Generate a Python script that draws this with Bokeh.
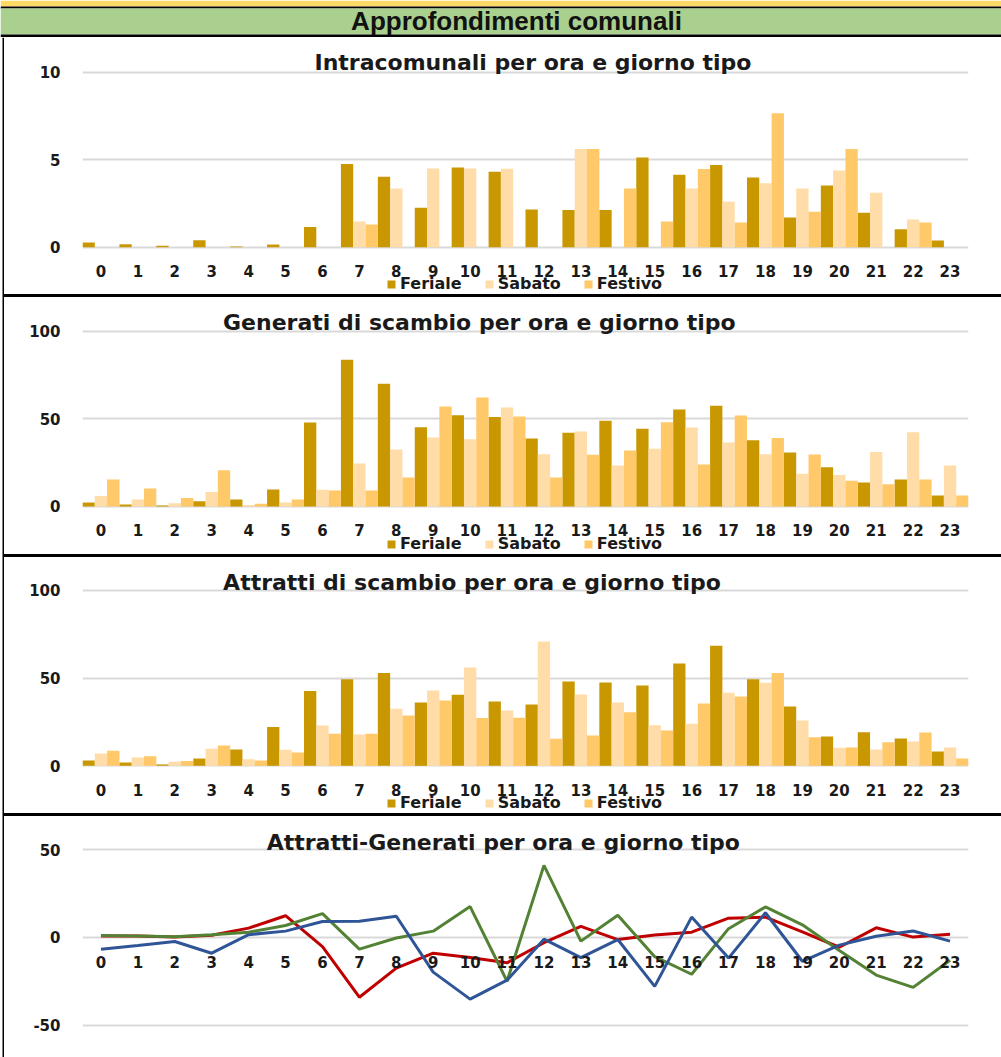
from bokeh.plotting import figure
from bokeh.models import Range1d, FixedTicker, Legend, LegendItem, Label, ColumnDataSource, Div
from bokeh.layouts import column, row
from bokeh.embed import file_html
from bokeh.resources import INLINE
from bokeh.core.properties import value
from bokeh.transform import dodge

# ---------------- data ----------------
hours = list(range(24))
hour_labels = [str(h) for h in hours]
series_names = ["Feriale", "Sabato", "Festivo"]

header_text = "Approfondimenti comunali"
titles = [
    "Intracomunali per ora e giorno tipo",
    "Generati di scambio per ora e giorno tipo",
    "Attratti di scambio per ora e giorno tipo",
    "Attratti-Generati per ora e giorno tipo",
]

intra_ticks = [0, 5, 10]
exchange_ticks = [0, 50, 100]
diff_ticks = [-50, 0, 50]
diff_tick_labels = ["-50", "0", "50"]

intra_feriale = [0.27, 0.17, 0.08, 0.40, 0.04, 0.15, 1.15, 4.75, 4.03, 2.25, 4.56, 4.31,
                 2.16, 2.12, 2.12, 5.13, 4.14, 4.69, 3.99, 1.70, 3.53, 1.97, 1.03, 0.38]
intra_sabato = [0, 0, 0, 0, 0, 0, 0, 1.47, 3.36, 4.50, 4.50, 4.48,
                0, 5.61, 0, 0, 3.36, 2.60, 3.65, 3.36, 4.39, 3.11, 1.58, 0]
intra_festivo = [0, 0, 0, 0, 0, 0, 0, 1.30, 0, 0, 0, 0,
                 0, 5.61, 3.36, 1.47, 4.47, 1.41, 7.65, 2.02, 5.61, 0, 1.41, 0]

gen_feriale = [2.3, 1.1, 0.6, 3.0, 4.0, 9.7, 47.9, 83.7, 70.0, 45.2, 52.1, 51.0,
               38.8, 42.0, 48.9, 44.3, 55.3, 57.4, 37.8, 30.8, 22.4, 13.7, 15.4, 6.3]
gen_sabato = [5.9, 4.0, 1.9, 8.2, 0.8, 2.3, 9.5, 24.5, 32.5, 39.4, 38.4, 56.5,
              29.8, 42.8, 23.4, 32.9, 45.1, 36.5, 29.8, 18.6, 17.9, 31.0, 42.4, 23.4]
gen_festivo = [15.4, 10.3, 4.9, 20.7, 1.5, 4.0, 9.1, 9.1, 16.5, 57.0, 62.2, 51.3,
               16.5, 29.5, 31.9, 48.1, 24.0, 51.9, 39.0, 29.7, 14.6, 12.7, 15.4, 6.3]

att_feriale = [3.0, 1.9, 0.8, 4.2, 9.3, 22.1, 42.6, 49.4, 52.9, 36.1, 40.5, 36.7,
               35.0, 48.1, 47.5, 45.8, 58.4, 68.4, 49.4, 33.8, 16.7, 19.2, 15.6, 8.2]
att_sabato = [7.0, 4.8, 2.3, 9.7, 3.8, 9.1, 23.0, 17.9, 32.5, 43.0, 56.1, 31.6,
              70.9, 40.7, 36.1, 23.2, 24.0, 41.6, 47.3, 25.9, 10.3, 9.3, 13.9, 10.5]
att_festivo = [8.6, 5.5, 2.7, 11.6, 3.0, 7.6, 18.3, 18.3, 28.7, 37.3, 27.2, 27.4,
               15.4, 17.3, 30.6, 20.2, 35.6, 39.5, 53.0, 16.3, 10.5, 13.5, 19.0, 4.2]

diff_feriale = [0.8, 0.8, 0.2, 1.2, 5.3, 12.4, -5.2, -34.1, -17.5, -9.0, -11.4, -14.5,
                -3.0, 6.3, -1.2, 1.4, 3.0, 11.0, 11.6, 3.2, -5.6, 5.5, 0.2, 1.8]
diff_sabato = [1.1, 0.8, 0.4, 1.5, 3.0, 6.8, 13.6, -6.7, -0.3, 3.6, 17.6, -25.0,
               41.1, -2.1, 12.7, -11.0, -21.0, 5.0, 17.4, 7.2, -7.5, -21.5, -28.5, -13.0]
diff_festivo = [-6.8, -4.6, -2.3, -9.0, 1.6, 3.6, 9.1, 9.2, 12.1, -19.8, -35.2, -24.4,
                -1.0, -11.5, -1.2, -27.9, 11.6, -11.8, 14.1, -13.6, -4.4, 0.7, 3.7, -2.1]

# ---------------- style ----------------
FONT = "DejaVu Sans"
COL_FER = "#C99800"
COL_SAB = "#FFDCA8"
COL_FES = "#FFC869"
LINE_COLS = ["#C00000", "#548235", "#2F5597"]
GRID = "#D9D9D9"
TXT = "#1A1A1A"
GREEN = "#A9D08E"
YELLOW = "#FFD966"

PAGE_W = 1001
W = 997          # chart figures width (page x 4..1001)
LEFT = 78        # frame starts at page x 82
RIGHT = 33       # frame ends at page x 968


def sep(w, h):
    return Div(text="", width=w, height=h, margin=0,
               styles={"background-color": "black"})


def base_fig(height, y_start, y_end, yticks, ylabels=None):
    p = figure(width=W, height=height, toolbar_location=None, output_backend="svg", tools="",
               x_range=Range1d(-0.5, 23.5), y_range=Range1d(y_start, y_end),
               min_border_left=LEFT, min_border_right=RIGHT, min_border_top=0,
               min_border_bottom=0, outline_line_color=None, title=None,
               x_axis_location=None,
               background_fill_color="white", border_fill_color="white")
    p.xgrid.visible = False
    ya = p.yaxis[0]
    ya.ticker = FixedTicker(ticks=yticks)
    if ylabels is not None:
        ya.major_label_overrides = {t: s for t, s in zip(yticks, ylabels)}
    ya.axis_line_color = None
    ya.major_tick_line_color = None
    ya.minor_tick_line_color = None
    ya.major_label_standoff = 16
    ya.major_label_text_font = FONT
    ya.major_label_text_font_size = "15px"
    ya.major_label_text_font_style = "bold"
    ya.major_label_text_color = TXT
    p.ygrid.ticker = FixedTicker(ticks=yticks)
    p.ygrid.grid_line_color = GRID
    p.ygrid.grid_line_width = 2
    return p


def hour_text(p, ylab):
    p.text(x=hours, y=[ylab] * len(hours), text=hour_labels, text_font=value(FONT),
           text_font_size="15px", text_font_style="bold", text_color=TXT,
           text_align="center", text_baseline="middle")


def add_title(p, text, x, y):
    p.add_layout(Label(x=x, y=y, text=text, text_font=FONT, text_font_size="22px",
                       text_font_style="bold", text_color=TXT,
                       text_align="center", text_baseline="middle"))


def bar_chart(height, y_start, y_end, yticks, ylab, fer, sab, fes, title, tx, ty):
    p = base_fig(height, y_start, y_end, yticks)
    src = ColumnDataSource(dict(hour=hours, fer=fer, sab=sab, fes=fes))
    r1 = p.vbar(x=dodge("hour", -1 / 3), top="fer", width=1 / 3, source=src,
                fill_color=COL_FER, line_color=None)
    r2 = p.vbar(x=dodge("hour", 0), top="sab", width=1 / 3, source=src,
                fill_color=COL_SAB, line_color=None)
    r3 = p.vbar(x=dodge("hour", 1 / 3), top="fes", width=1 / 3, source=src,
                fill_color=COL_FES, line_color=None)
    hour_text(p, ylab)
    legend = Legend(items=[LegendItem(label=series_names[0], renderers=[r1]),
                           LegendItem(label=series_names[1], renderers=[r2]),
                           LegendItem(label=series_names[2], renderers=[r3])],
                    orientation="horizontal", location=(304, 1),
                    padding=0, margin=0, spacing=22, glyph_width=10, glyph_height=10,
                    label_standoff=4, label_height=12,
                    label_text_font=FONT, label_text_font_size="16px",
                    label_text_font_style="bold", label_text_color=TXT,
                    border_line_color=None, background_fill_alpha=0)
    p.add_layout(legend)
    add_title(p, title, tx, ty)
    return p


# ---------------- header (page y 0..37) ----------------
header = figure(width=PAGE_W, height=37, toolbar_location=None, output_backend="svg", tools="",
                min_border=0, x_axis_location=None, y_axis_location=None, title=None,
                background_fill_color="white", border_fill_color="white",
                outline_line_color=None, x_range=Range1d(0, PAGE_W), y_range=Range1d(0, 37))
header.grid.visible = False
header.quad(left=[0, 0, 0, 0], right=[PAGE_W] * 4, bottom=[31, 29, 3, 0], top=[37, 31, 29, 3],
            fill_color=[YELLOW, "black", GREEN, "black"], line_color=None)
header.add_layout(Label(x=516, y=17, text=header_text, text_font="Liberation Sans",
                        text_font_size="26px", text_font_style="bold", text_color="#111111",
                        text_align="center", text_baseline="middle"))

# ---------------- left border (page x 0..4) ----------------
left_strip = figure(width=4, height=1020, toolbar_location=None, output_backend="svg", tools="",
                    min_border=0, x_axis_location=None, y_axis_location=None, title=None,
                    background_fill_color="white", border_fill_color="white",
                    outline_line_color=None, x_range=Range1d(0, 4), y_range=Range1d(0, 1))
left_strip.grid.visible = False
left_strip.quad(left=[2], right=[4], bottom=[0], top=[1], fill_color="black", line_color=None)

# ---------------- charts ----------------
p1 = bar_chart(257, -2.70, 11.98, intra_ticks, -1.37,
               intra_feriale, intra_sabato, intra_festivo, titles[0], 11.70, 10.57)
p2 = bar_chart(257, -27.4, 119.2, exchange_ticks, -13.7,
               gen_feriale, gen_sabato, gen_festivo, titles[1], 10.25, 105.0)
p3 = bar_chart(256, -27.2, 118.8, exchange_ticks, -13.7,
               att_feriale, att_sabato, att_festivo, titles[2], 10.05, 104.7)

p4 = base_fig(241, -68.5, 69.0, diff_ticks, diff_tick_labels)
for vals, col in zip([diff_feriale, diff_sabato, diff_festivo], LINE_COLS):
    p4.line(hours, vals, line_color=col, line_width=3)
hour_text(p4, -14.0)
add_title(p4, titles[3], 10.90, 54.4)

charts = column(p1, sep(W, 3), p2, sep(W, 3), p3, sep(W, 3), p4)
body = row(left_strip, charts)
page = column(header, body)

open("out.html", "w").write(file_html(page, INLINE))
